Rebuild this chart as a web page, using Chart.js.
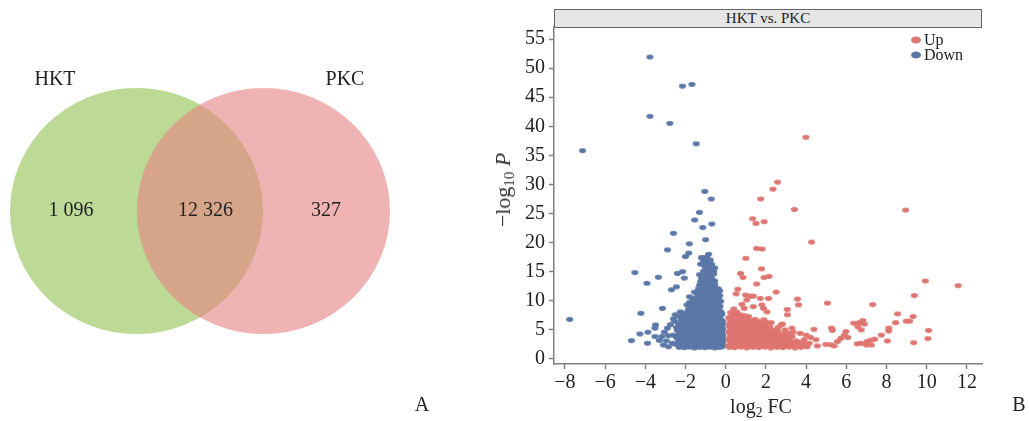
<!DOCTYPE html>
<html><head><meta charset="utf-8">
<script src="https://cdn.jsdelivr.net/npm/chart.js@4.4.1/dist/chart.umd.min.js"></script>
<style>
html,body{margin:0;padding:0;background:#fff}
body{width:1029px;height:421px;position:relative;overflow:hidden;font-family:"Liberation Serif","DejaVu Serif",serif;color:#222}
canvas{position:absolute;top:0}
#venn{left:0}
#volc{left:440px}
.t{position:absolute;white-space:nowrap;line-height:1;transform:translate(-50%,-50%);font-weight:normal}
.t sub{font-size:0.68em;vertical-align:-0.3em;line-height:0}
#strip{position:absolute;left:554px;top:9px;width:428px;height:19px;box-sizing:border-box;background:#e5e5e5;border:1px solid #666;font-size:15px;line-height:17px;text-align:center}
.lg{position:absolute;font-size:16px;line-height:1;transform:translateY(-50%)}
.dot{position:absolute;width:10px;height:7px;border-radius:50%;transform:translate(-50%,-50%)}
</style></head>
<body>
<canvas id="venn" width="440" height="421"></canvas>
<canvas id="volc" width="589" height="421"></canvas>
<div id="overlay"></div>
<script>
// ---------- DATA ----------
const vennSets = ['HKT', 'PKC'];
const vennOnly = [1096, 327];
const vennShared = 12326;

const xTicks = [-8, -6, -4, -2, 0, 2, 4, 6, 8, 10, 12];
const yTicks = [0, 5, 10, 15, 20, 25, 30, 35, 40, 45, 50, 55];
const seriesNames = ['Up', 'Down'];

const downPts = [
[-3.77,51.9],[-2.15,46.9],[-1.68,47.2],[-3.77,41.7],[-2.78,40.5],[-7.12,35.8],[-1.47,37.0],[-1.04,28.8],[-0.72,27.5],[-1.31,25.2],[-1.54,23.9],[-1.14,22.6],[-0.69,23.2],[-2.6,21.6],[-1.81,19.8],[-1.0,20.5],[-2.9,18.75],[-1.84,18.2],[-2.0,17.6],[-0.85,18.0],[-4.52,14.85],[-3.35,14.05],[-3.92,13.0],[-2.4,14.7],[-2.15,15.0],[-2.06,13.9],[-2.45,12.4],[-2.7,11.9],[-3.15,8.7],[-4.22,7.85],[-7.76,6.8],[-3.49,5.85],[-3.52,5.3],[-4.27,4.3],[-3.87,4.6],[-4.69,3.15],[-3.89,2.7],[-3.52,3.85],[-3.18,3.85],[-2.9,5.3],[-2.85,2.1],[-2.6,4.1],[-2.65,2.7],
[-1.18,17.4],[-0.97,16.7],[-0.77,17.0],[-1.05,16.0],[-1.8,10.7],[-1.93,9.3],[-2.26,8.1],[-2.51,7.6],[-2.55,6.5],[-2.75,5.9],[-3.05,4.6],[-2.85,4.0],[-3.3,3.2],[-2.95,3.1],[-3.1,2.4],[-2.45,5.4],[-2.6,6.9],
[-2.32,2.0],[-2.06,1.95],[-1.8,2.05],[-1.55,1.9],[-1.3,2.0],[-1.04,1.95],[-0.8,2.05],[-0.55,1.9],[-0.32,2.0],[-0.18,2.1],
[-2.52,2.55],[-2.2,2.5],[-1.95,2.6],[-1.7,2.45],[-1.45,2.55],[-1.2,2.5],[-0.95,2.6],[-0.7,2.45],[-0.45,2.55],[-0.2,2.5],
[-2.35,3.1],[-2.1,3.2],[-1.85,3.05],[-1.6,3.15],[-1.35,3.1],[-1.1,3.2],[-0.85,3.05],[-0.6,3.15],[-0.35,3.1],[-0.18,3.2],
[-2.45,3.7],[-2.2,3.75],[-1.95,3.65],[-1.7,3.8],[-1.45,3.7],[-1.2,3.75],[-0.95,3.65],[-0.7,3.8],[-0.45,3.7],[-0.2,3.75],
[-2.3,4.3],[-2.05,4.35],[-1.8,4.25],[-1.55,4.4],[-1.3,4.3],[-1.05,4.35],[-0.8,4.25],[-0.55,4.4],[-0.3,4.3],[-0.18,4.5],
[-2.4,4.9],[-2.15,4.95],[-1.9,4.85],[-1.65,5.0],[-1.4,4.9],[-1.15,4.95],[-0.9,4.85],[-0.65,5.0],[-0.4,4.9],[-0.2,4.95],
[-2.25,5.5],[-2.0,5.55],[-1.75,5.45],[-1.5,5.6],[-1.25,5.5],[-1.0,5.55],[-0.75,5.45],[-0.5,5.6],[-0.25,5.5],
[-2.35,6.1],[-2.1,6.15],[-1.85,6.05],[-1.6,6.2],[-1.35,6.1],[-1.1,6.15],[-0.85,6.05],[-0.6,6.2],[-0.35,6.1],[-0.18,6.0],
[-2.2,6.7],[-1.95,6.75],[-1.7,6.65],[-1.45,6.8],[-1.2,6.7],[-0.95,6.75],[-0.7,6.65],[-0.45,6.8],[-0.22,6.7],
[-2.3,7.3],[-2.05,7.35],[-1.8,7.25],[-1.55,7.4],[-1.3,7.3],[-1.05,7.35],[-0.8,7.25],[-0.55,7.4],[-0.3,7.3],
[-2.15,7.9],[-1.9,7.95],[-1.65,7.85],[-1.4,8.0],[-1.15,7.9],[-0.9,7.95],[-0.65,7.85],[-0.4,8.0],[-0.2,7.9],
[-1.85,8.5],[-1.6,8.55],[-1.35,8.45],[-1.1,8.6],[-0.85,8.5],[-0.6,8.55],[-0.35,8.45],
[-1.75,9.1],[-1.5,9.15],[-1.25,9.05],[-1.0,9.2],[-0.75,9.1],[-0.5,9.15],[-0.28,9.05],
[-1.8,9.7],[-1.45,9.75],[-1.2,9.65],[-0.95,9.8],[-0.7,9.7],[-0.45,9.75],[-0.25,9.9],
[-1.65,10.3],[-1.35,10.35],[-1.1,10.25],[-0.85,10.4],[-0.6,10.3],[-0.35,10.35],
[-1.3,10.9],[-1.05,10.95],[-0.8,10.85],[-0.55,11.0],[-0.3,10.9],
[-1.55,11.5],[-1.25,11.55],[-1.0,11.45],[-0.75,11.6],[-0.5,11.5],[-0.3,11.7],
[-1.35,12.1],[-1.1,12.15],[-0.85,12.05],[-0.6,12.2],[-0.38,12.1],
[-1.3,12.7],[-1.05,12.75],[-0.8,12.65],[-0.55,12.8],
[-1.25,13.3],[-1.0,13.35],[-0.75,13.25],[-0.55,13.4],
[-1.2,13.9],[-0.95,13.95],[-0.7,13.85],
[-1.3,14.5],[-1.0,14.55],[-0.8,14.45],[-0.6,14.6],
[-1.1,15.1],[-0.85,15.15],[-0.6,15.05],
[-1.0,15.7],[-0.75,15.75],[-0.55,15.65],
[-1.25,16.3],[-0.9,16.35],[-0.7,16.25],
[-1.1,16.9],[-0.8,16.95],
[-1.2,17.4],[-0.95,17.5],
[-2.18,2.3],[-1.92,2.3],[-1.67,2.25],[-1.42,2.3],[-1.17,2.3],[-0.92,2.25],[-0.67,2.3],[-0.42,2.3],[-0.15,2.3],
[-2.3,2.85],[-2.05,2.85],[-1.8,2.8],[-1.55,2.85],[-1.3,2.9],[-1.05,2.85],[-0.8,2.8],[-0.55,2.85],[-0.3,2.85],[-0.15,2.9],
[-2.2,3.4],[-1.95,3.45],[-1.7,3.4],[-1.45,3.4],[-1.2,3.45],[-0.95,3.4],[-0.7,3.4],[-0.45,3.45],[-0.15,3.4],
[-2.3,4.0],[-2.05,4.0],[-1.8,4.05],[-1.55,4.0],[-1.3,4.0],[-1.05,4.05],[-0.8,4.0],[-0.55,4.0],[-0.32,4.05],[-0.15,4.0],
[-2.25,4.6],[-2.0,4.65],[-1.75,4.6],[-1.5,4.6],[-1.25,4.65],[-1.0,4.6],[-0.75,4.6],[-0.5,4.65],[-0.28,4.6],
[-2.3,5.2],[-2.05,5.2],[-1.8,5.25],[-1.55,5.2],[-1.3,5.2],[-1.05,5.25],[-0.8,5.2],[-0.55,5.2],[-0.3,5.25],[-0.15,5.2],
[-2.2,5.8],[-1.95,5.85],[-1.7,5.8],[-1.45,5.8],[-1.2,5.85],[-0.95,5.8],[-0.7,5.8],[-0.45,5.85],[-0.2,5.8],
[-2.05,6.4],[-1.8,6.45],[-1.55,6.4],[-1.3,6.4],[-1.05,6.45],[-0.8,6.4],[-0.55,6.4],[-0.3,6.45],[-0.15,6.4],
[-2.1,7.0],[-1.85,7.05],[-1.6,7.0],[-1.35,7.0],[-1.1,7.05],[-0.85,7.0],[-0.6,7.0],[-0.35,7.05],
[-1.95,7.6],[-1.7,7.65],[-1.45,7.6],[-1.2,7.6],[-0.95,7.65],[-0.7,7.6],[-0.45,7.6],[-0.2,7.65],
[-1.75,8.2],[-1.5,8.25],[-1.25,8.2],[-1.0,8.2],[-0.75,8.25],[-0.5,8.2],[-0.28,8.2],
[-1.65,8.8],[-1.4,8.85],[-1.15,8.8],[-0.9,8.8],[-0.65,8.85],[-0.42,8.8],
[-1.6,9.4],[-1.35,9.45],[-1.1,9.4],[-0.85,9.4],[-0.6,9.45],[-0.38,9.4],
[-1.5,10.0],[-1.25,10.05],[-1.0,10.0],[-0.75,10.0],[-0.5,10.05],
[-1.45,10.6],[-1.2,10.65],[-0.95,10.6],[-0.7,10.6],[-0.45,10.65],
[-1.4,11.2],[-1.15,11.25],[-0.9,11.2],[-0.65,11.2],[-0.42,11.25],
[-1.2,11.8],[-0.95,11.85],[-0.72,11.8],[-0.5,11.8],
[-1.18,12.4],[-0.92,12.45],[-0.68,12.4],
[-1.12,13.0],[-0.88,13.05],[-0.65,13.0]
];

const upPts = [
[3.99,38.1],[2.58,30.4],[2.35,29.2],[1.74,27.5],[3.42,25.7],[8.95,25.6],[1.34,24.1],[1.51,23.3],[1.91,23.6],[4.27,20.1],[1.54,19.0],[1.81,18.9],[1.0,17.3],[1.78,15.5],[0.74,14.7],[0.86,14.0],[1.91,14.0],[2.15,14.2],[1.54,12.9],[9.93,13.4],[11.56,12.6],[0.6,12.0],[0.52,11.2],[2.51,11.5],[9.38,10.9],[3.57,10.3],[2.13,10.4],[1.72,10.4],[0.99,11.0],[1.21,10.8],[1.37,10.8],[1.05,10.15],[5.06,9.6],[3.62,9.3],[7.31,9.35],[0.81,9.4],[0.92,8.7],[1.37,9.0],[1.8,9.3],[1.88,8.7],[2.05,8.1],[3.06,8.5],[3.07,7.6],[0.47,7.85],[0.72,7.6],[1.13,7.3],[8.55,7.75],[9.32,7.3],[2.26,6.25],[2.76,5.85],[2.82,6.0],[8.45,6.25],[8.98,6.5],[9.15,6.5],[10.09,4.9],[10.06,3.5],[9.35,2.8],[8.04,3.1],[8.11,4.8],[8.11,5.3],[7.74,4.1],[5.23,2.45],[4.98,2.5],[5.4,2.25],[4.56,2.25],[5.26,5.3],[5.31,4.9],[4.39,5.1],[4.22,3.7],[4.49,3.3],[3.3,5.3],[6.65,6.25],[6.37,6.15],[6.82,6.6],[6.57,5.55],[6.74,5.0],[6.9,6.0],[5.98,4.7],[5.9,4.1],[6.07,3.7],[5.73,3.55],[5.56,3.0],[7.04,3.0],[6.74,2.7],[7.24,3.25],[7.41,3.4],[6.99,2.4],[7.24,2.4],[6.54,2.6],
[3.9,3.3],[4.15,2.7],[3.7,4.4],[3.35,4.6],[4.0,4.1],[2.95,5.0],[2.6,5.4],[3.1,4.4],
[0.18,2.0],[0.45,1.95],[0.75,2.05],[1.05,1.9],[1.35,2.0],[1.65,1.95],[1.95,2.05],[2.25,1.9],[2.55,2.0],[2.85,1.95],[3.15,2.05],[3.45,1.9],[3.75,2.0],[4.05,2.1],
[0.25,2.6],[0.55,2.55],[0.85,2.65],[1.15,2.5],[1.45,2.6],[1.75,2.55],[2.05,2.65],[2.35,2.5],[2.65,2.6],[2.95,2.55],[3.25,2.65],[3.55,2.5],[3.9,2.6],
[0.18,3.2],[0.45,3.15],[0.75,3.25],[1.05,3.1],[1.35,3.2],[1.65,3.15],[1.95,3.25],[2.25,3.1],[2.55,3.2],[2.85,3.15],[3.15,3.25],[3.5,3.1],
[0.25,3.8],[0.55,3.75],[0.85,3.85],[1.15,3.7],[1.45,3.8],[1.75,3.75],[2.05,3.85],[2.35,3.7],[2.65,3.8],[2.95,3.75],[3.3,3.85],
[0.18,4.4],[0.45,4.35],[0.75,4.45],[1.05,4.3],[1.35,4.4],[1.65,4.35],[1.95,4.45],[2.25,4.3],[2.55,4.4],[2.9,4.35],
[0.25,5.0],[0.55,4.95],[0.85,5.05],[1.15,4.9],[1.45,5.0],[1.75,4.95],[2.05,5.05],[2.4,4.9],
[0.18,5.6],[0.45,5.55],[0.75,5.65],[1.05,5.5],[1.35,5.6],[1.65,5.55],[1.95,5.65],[2.2,5.5],
[0.25,6.2],[0.55,6.15],[0.85,6.25],[1.15,6.1],[1.45,6.2],[1.75,6.15],[2.05,6.25],
[0.2,6.8],[0.5,6.75],[0.8,6.85],[1.1,6.7],[1.45,6.8],[1.9,6.75],
[0.3,7.4],[0.6,7.35],[0.95,7.45],
[0.25,8.0],[0.55,8.05],
[0.4,8.6],
[0.15,2.3],[0.6,2.3],[0.9,2.25],[1.2,2.3],[1.5,2.3],[1.8,2.25],[2.1,2.3],[2.4,2.3],[2.7,2.25],[3.0,2.3],[3.3,2.3],[3.6,2.25],
[0.32,2.9],[0.62,2.9],[0.92,2.85],[1.22,2.9],[1.52,2.9],[1.82,2.85],[2.12,2.9],[2.42,2.9],[2.72,2.85],[3.02,2.9],[3.35,2.9],[3.7,2.85],
[0.15,3.5],[0.6,3.5],[0.9,3.45],[1.2,3.5],[1.5,3.5],[1.8,3.45],[2.1,3.5],[2.4,3.5],[2.7,3.45],[3.05,3.5],
[0.32,4.1],[0.62,4.1],[0.92,4.05],[1.22,4.1],[1.52,4.1],[1.82,4.05],[2.12,4.1],[2.42,4.1],[2.72,4.05],[3.1,4.1],
[0.15,4.7],[0.6,4.7],[0.9,4.65],[1.2,4.7],[1.5,4.7],[1.8,4.65],[2.1,4.7],[2.6,4.7],
[0.32,5.3],[0.62,5.3],[0.92,5.25],[1.22,5.3],[1.52,5.3],[1.82,5.25],[2.1,5.3],
[0.15,5.9],[0.6,5.9],[0.9,5.85],[1.2,5.9],[1.5,5.9],[1.85,5.85],
[0.35,6.5],[0.65,6.5],[0.95,6.45],[1.3,6.5],[1.6,6.5],
[0.15,7.1],[0.45,7.1],[0.8,7.05]
];

// ---------- STYLE / LAYOUT ----------
const C = {
  green: 'rgb(188,217,150)', pink: 'rgba(230,128,128,0.6)',
  up: '#df7570', down: '#5a77a7', axis: '#808080', text: '#222'
};
const vennLayout = { centers: [[136.5, 211], [263.5, 211]], rx: 126.5, ry: 123,
  setLabelPos: [[55, 78], [345, 78]], onlyPos: [[71, 209], [326, 209]], sharedPos: [205.5, 209] };

function ellipseImg(color, rx, ry) {
  const c = document.createElement('canvas');
  c.width = Math.ceil(rx * 2) + 2; c.height = Math.ceil(ry * 2) + 2;
  const g = c.getContext('2d');
  g.fillStyle = color; g.beginPath();
  g.ellipse(c.width / 2, c.height / 2, rx, ry, 0, 0, Math.PI * 2); g.fill();
  return c;
}
const fmtThousands = n => String(n).replace(/\B(?=(\d{3})+(?!\d))/g, ' ');
const fmtTick = v => (v < 0 ? '\u2212' + Math.abs(v) : String(v));
const serif = 'Liberation Serif';

// ---------- VENN ----------
new Chart(document.getElementById('venn'), {
  type: 'scatter',
  data: { datasets: [
    { label: vennSets[1], data: [{ x: vennLayout.centers[1][0], y: vennLayout.centers[1][1] }],
      pointStyle: ellipseImg(C.pink, vennLayout.rx, vennLayout.ry), pointRadius: 125, order: 0, clip: false },
    { label: vennSets[0], data: [{ x: vennLayout.centers[0][0], y: vennLayout.centers[0][1] }],
      pointStyle: ellipseImg(C.green, vennLayout.rx, vennLayout.ry), pointRadius: 125, order: 1, clip: false }
  ]},
  options: {
    responsive: false, animation: false, events: [],
    layout: { padding: 0, autoPadding: false },
    plugins: { legend: { display: false }, tooltip: { enabled: false } },
    scales: {
      x: { type: 'linear', min: 0, max: 440, display: false },
      y: { type: 'linear', min: 0, max: 421, reverse: true, display: false }
    }
  }
});

// ---------- VOLCANO ----------
const axisCommon = (extra) => Object.assign({
  type: 'linear',
  grid: { drawOnChartArea: false, drawTicks: true, tickLength: 5, tickColor: C.axis, tickWidth: 1.5 },
  border: { display: true, color: C.axis, width: 1.5 },
}, extra);

new Chart(document.getElementById('volc'), {
  type: 'scatter',
  data: { datasets: [
    { label: seriesNames[0], data: upPts.map(([x, y]) => ({ x, y })), pointStyle: ellipseImg(C.up, 3.5, 2.4), pointRadius: 3.5 },
    { label: seriesNames[1], data: downPts.map(([x, y]) => ({ x, y })), pointStyle: ellipseImg(C.down, 3.5, 2.4), pointRadius: 3.5 }
  ]},
  options: {
    responsive: false, animation: false, events: [],
    layout: { padding: { top: 27, right: 47, left: 0, bottom: 0 }, autoPadding: false },
    plugins: { legend: { display: false }, tooltip: { enabled: false } },
    scales: {
      x: axisCommon({ min: -8.54, max: 12.75,
        afterBuildTicks: s => { s.ticks = xTicks.map(v => ({ value: v })); },
        afterFit: s => { s.height = 57; },
        ticks: { font: { family: serif, size: 20 }, color: C.text, padding: 2, maxRotation: 0, autoSkip: false, callback: v => fmtTick(v) } }),
      y: axisCommon({ min: -0.86, max: 57.07,
        afterBuildTicks: s => { s.ticks = yTicks.map(v => ({ value: v })); },
        afterFit: s => { s.width = 114; },
        ticks: { font: { family: serif, size: 20 }, color: C.text, padding: 4, autoSkip: false, callback: v => fmtTick(v) } })
    }
  }
});

// ---------- TEXT OVERLAYS ----------
const ov = document.getElementById('overlay');
function addText(html, x, y, size, cls) {
  const d = document.createElement('div');
  d.className = cls || 't'; d.innerHTML = html;
  d.style.left = x + 'px'; d.style.top = y + 'px'; d.style.fontSize = size + 'px';
  ov.appendChild(d); return d;
}
vennSets.forEach((s, i) => addText(s, vennLayout.setLabelPos[i][0], vennLayout.setLabelPos[i][1], 20));
vennOnly.forEach((n, i) => addText(fmtThousands(n), vennLayout.onlyPos[i][0], vennLayout.onlyPos[i][1], 20));
addText(fmtThousands(vennShared), vennLayout.sharedPos[0], vennLayout.sharedPos[1], 20);
addText('A', 422, 404, 20);
addText('B', 1019, 404, 20);

const strip = document.createElement('div');
strip.id = 'strip'; strip.textContent = vennSets[0] + ' vs. ' + vennSets[1];
ov.appendChild(strip);

addText('log<sub>2</sub> FC', 761, 406, 20);
const yt = addText('\u2212log<sub>10</sub> <i>P</i>', 503, 190, 22);
yt.style.transform = 'translate(-50%,-50%) rotate(-90deg)';
yt.style.color = '#333';

[[C.up, seriesNames[0], 39.5], [C.down, seriesNames[1], 54.5]].forEach(([col, name, y]) => {
  const dot = document.createElement('div');
  dot.className = 'dot'; dot.style.background = col; dot.style.left = '915.5px'; dot.style.top = y + 'px';
  ov.appendChild(dot);
  const l = document.createElement('div');
  l.className = 'lg'; l.textContent = name; l.style.left = '924px'; l.style.top = y + 'px';
  ov.appendChild(l);
});
</script>
</body></html>
